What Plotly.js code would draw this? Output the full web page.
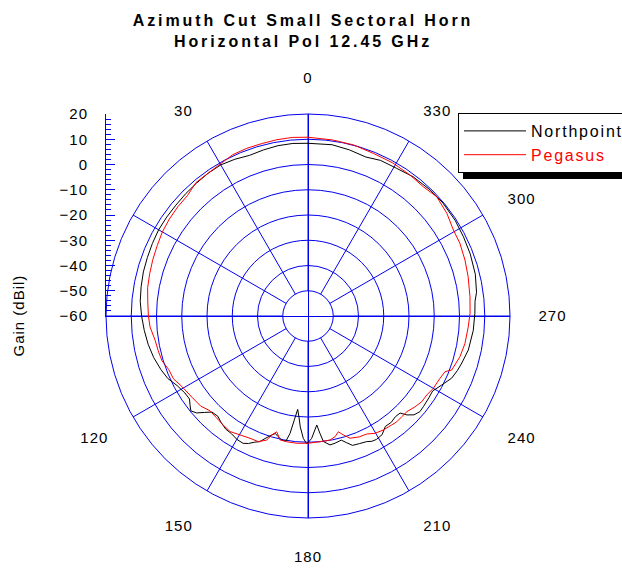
<!DOCTYPE html>
<html>
<head>
<meta charset="utf-8">
<script src="https://cdn.plot.ly/plotly-3.0.1.min.js"></script>
<style>
  html, body { margin: 0; padding: 0; background: #fff; overflow: hidden; width: 622px; height: 574px; }
  #chart { width: 640px; height: 574px; }
  .main-svg text { letter-spacing: 1px; }
  text.gtitle, .main-svg text.gtitle { letter-spacing: 2.9px; }
  text.legendtext, .main-svg text.legendtext { letter-spacing: 1.8px; }
</style>
</head>
<body>
<div id="chart"></div>
<script>
// ---- data ----
const angleTicks = [0, 30, 60, 90, 120, 150, 180, 210, 240, 270, 300, 330];
const angleTickText = ['0', '30', '', '', '120', '150', '180', '210', '240', '270', '300', '330'];
const gainRange = [-60, 20];

const northTheta = [0, 5, 10, 15, 20, 25, 30, 35, 40, 45, 50, 55, 60, 65, 70, 75, 80, 85, 90, 95,
  100, 105, 110, 114, 118, 122, 125, 127, 129, 131, 133, 135, 138, 141, 144, 147, 150, 153, 155, 157,
  159, 161, 163, 164.5, 166, 168, 170, 171.3, 172.5, 173.7, 175, 176, 177.8, 179.5, 181.7, 183, 184.6,
  185.8, 187, 189.7, 192, 195, 197, 199, 202, 205, 207, 209, 212, 215, 218, 221, 223.5, 225, 227,
  229.5, 232, 236, 239, 242.7, 246.6, 250, 253, 258, 265, 271, 275, 278, 284, 291, 297, 303, 310,
  316, 323, 329, 335, 340, 346, 352, 360];
const northGain = [8.4, 8.6, 8.5, 8.1, 7.7, 8.5, 9.1, 9.0, 8.7, 8.5, 8.3, 8.3, 8.3, 8.0, 7.7, 7.5, 7.1, 6.7, 5.9, 5.1,
  4.3, 3.3, 2.0, 0.8, -1.3, -2.5, -2.7, -1.5, -0.3, -1.5, -4.0, -6.2, -6.6, -5.5, -4.6, -4.4, -3.6, -3.4, -4.3, -5.7,
  -6.7, -8.9, -10.7, -11.7, -10.8, -9.8, -9.7, -13.0, -18.5, -22.8, -19.5, -16.0, -11.5, -9.3, -11.5, -14.0, -16.7,
  -13.3, -9.9, -8.2, -8.5, -9.1, -7.5, -5.8, -5.5, -5.1, -4.3, -4.1, -4.6, -6.6, -6.5, -7.2, -7.0, -4.6, -2.6,
  -1.7, -1.9, -2.2, -2.4, -0.4, 2.0, 3.0, 3.7, 4.9, 5.7, 6.1, 6.4, 7.4, 8.3, 8.8, 9.1, 9.5, 9.7,
  9.5, 9.1, 8.2, 8.0, 7.0, 7.8, 8.5, 8.4];

const pegTheta = [0, 5, 10, 15, 20, 25, 30, 35, 40, 45, 50, 55, 60, 65, 70, 75, 80, 85, 90, 94,
  99, 103, 107, 111, 115, 119, 125, 130, 134, 138, 142, 146, 150, 154.6, 158.4, 161.6, 163, 164.9, 167.3, 170.4,
  175, 180, 185.5, 190, 192.6, 194.7, 196.5, 199, 203, 206.4, 209.7, 213.4, 217.5, 220, 223, 226,
  229.7, 233, 236.4, 240, 244.7, 247.9, 249.4, 255, 260, 266, 271, 276.8, 283.8, 289.6, 295.6, 300.6,
  306.5, 312.8, 318.3, 324, 331, 338, 345, 352, 360];
const pegGain = [10.8, 11.0, 10.9, 10.7, 10.7, 10.5, 9.5, 9.0, 9.0, 7.5, 7.3, 7.0, 6.6, 5.9, 5.4, 4.9, 4.5, 3.7, 3.2, 2.7,
  1.3, 0.9, 0.5, -0.9, -1.2, -2.7, -3.9, -4.5, -6.0, -5.8, -5.3, -4.8, -5.7, -6.4, -6.5, -8.2, -10.7, -12.5, -9.7, -9.5,
  -9.4, -9.6, -10.0, -10.1, -11.0, -12.6, -10.9, -8.8, -8.0, -7.8, -6.5, -5.9, -5.6, -5.3, -5.5, -5.5,
  -4.4, -3.6, -3.5, -2.7, -2.2, -1.4, 0.8, 2.3, 3.1, 3.6, 4.2, 4.6, 5.3, 6.0, 6.7, 6.9,
  8.4, 9.5, 8.6, 8.9, 9.3, 9.4, 10.1, 10.4, 10.8];

// ---- layout geometry ----
const W = 640, H = 574;          // canvas a bit wider than the 622px window so the legend box runs off the edge
const cx = 308, cy = 316, R = 202;
const xDom = [(cx - R) / W, (cx + R) / W];
const yDom = [1 - (cy + R) / H, 1 - (cy - R) / H];
const gridBlue = '#0000f0';
const FONT = 'Liberation Sans, Arial, sans-serif';
const nDiv = (gainRange[1] - gainRange[0]) / 10;
const legTop = 113, legH = 62, legLeft = 458;

const traces = [
  { type: 'scatterpolar', mode: 'lines', name: 'Northpoint',
    theta: northTheta, r: northGain, line: { color: '#000000', width: 1 }, hoverinfo: 'skip' },
  { type: 'scatterpolar', mode: 'lines', name: '<span style="color:#ff0000">Pegasus</span>',
    theta: pegTheta, r: pegGain, line: { color: '#ff0000', width: 1 }, hoverinfo: 'skip' },
  { type: 'scatter', x: [], y: [], xaxis: 'x', yaxis: 'y', showlegend: false, hoverinfo: 'skip' },
  { type: 'scatter', x: [], y: [], xaxis: 'x', yaxis: 'y2', showlegend: false, hoverinfo: 'skip' }
];

const layout = {
  width: W, height: H, autosize: false,
  margin: { l: 0, r: 0, t: 0, b: 0, autoexpand: false },
  paper_bgcolor: '#ffffff', plot_bgcolor: 'rgba(0,0,0,0)',
  font: { family: FONT, color: '#000000', size: 15 },
  title: {
    text: 'Azimuth Cut Small Sectoral Horn<br>Horizontal Pol 12.45 GHz',
    font: { family: FONT, size: 16, weight: 'bold', color: '#000000' },
    x: 303 / W, xref: 'paper', xanchor: 'center', y: 1 - 26 / H, yref: 'container', yanchor: 'top'
  },
  showlegend: true,
  legend: {
    x: legLeft / W, y: 1 - legTop / H, xanchor: 'left', yanchor: 'top',
    bgcolor: '#ffffff', bordercolor: '#000000', borderwidth: 1,
    font: { family: FONT, size: 16, color: '#000000' },
    itemwidth: 62, tracegroupgap: 0
  },
  shapes: [{
    type: 'rect', xref: 'paper', yref: 'paper', layer: 'above',
    x0: (legLeft + 5) / W, x1: 1, y0: 1 - (legTop + legH + 4) / H, y1: 1 - (legTop + 5) / H,
    fillcolor: '#000000', line: { width: 0 }
  }],
  polar: {
    domain: { x: xDom, y: yDom },
    bgcolor: 'rgba(0,0,0,0)',
    hole: 1 / nDiv,
    radialaxis: {
      range: [gainRange[0] + 10, gainRange[1]], dtick: 10, tick0: 0,
      showline: false, showticklabels: false, ticks: '',
      showgrid: true, gridcolor: gridBlue, gridwidth: 1
    },
    angularaxis: {
      rotation: 90, direction: 'counterclockwise',
      tickmode: 'array', tickvals: angleTicks, ticktext: angleTickText,
      showline: true, linecolor: gridBlue, linewidth: 1,
      showgrid: true, gridcolor: gridBlue, gridwidth: 1,
      ticks: 'outside', ticklen: 25, tickcolor: 'rgba(0,0,0,0)',
      tickfont: { family: FONT, size: 15, color: '#000000' }
    }
  },
  xaxis: {
    domain: xDom, range: [-1, 1], anchor: 'y',
    showline: true, linecolor: gridBlue, linewidth: 1,
    showgrid: false, zeroline: false, showticklabels: false, ticks: '', fixedrange: true
  },
  yaxis: {
    domain: [1 - cy / H, yDom[1]], range: gainRange, anchor: 'x', side: 'left',
    dtick: 10, tick0: 0,
    showline: true, linecolor: gridBlue, linewidth: 1,
    ticks: 'inside', ticklen: 9, tickcolor: gridBlue, tickwidth: 1,
    minor: { dtick: 2, ticks: 'inside', ticklen: 5, tickcolor: gridBlue, tickwidth: 1, showgrid: false },
    showgrid: false, zeroline: false,
    ticklabelstandoff: 14,
    tickfont: { family: FONT, size: 15, color: '#000000' }, fixedrange: true
  },
  yaxis2: {
    domain: yDom, range: [-1, 1], anchor: 'free', position: cx / W,
    showline: true, linecolor: gridBlue, linewidth: 1,
    showgrid: false, zeroline: false, showticklabels: false, ticks: '', fixedrange: true
  },
  annotations: [{
    text: 'Gain (dBil)', textangle: -90, showarrow: false,
    x: 18 / W, y: 1 - cy / H, xref: 'paper', yref: 'paper', xanchor: 'center', yanchor: 'middle',
    font: { family: FONT, size: 15, color: '#000000' }
  }]
};

Plotly.newPlot('chart', traces, layout, { staticPlot: true, displayModeBar: false });
</script>
</body>
</html>
